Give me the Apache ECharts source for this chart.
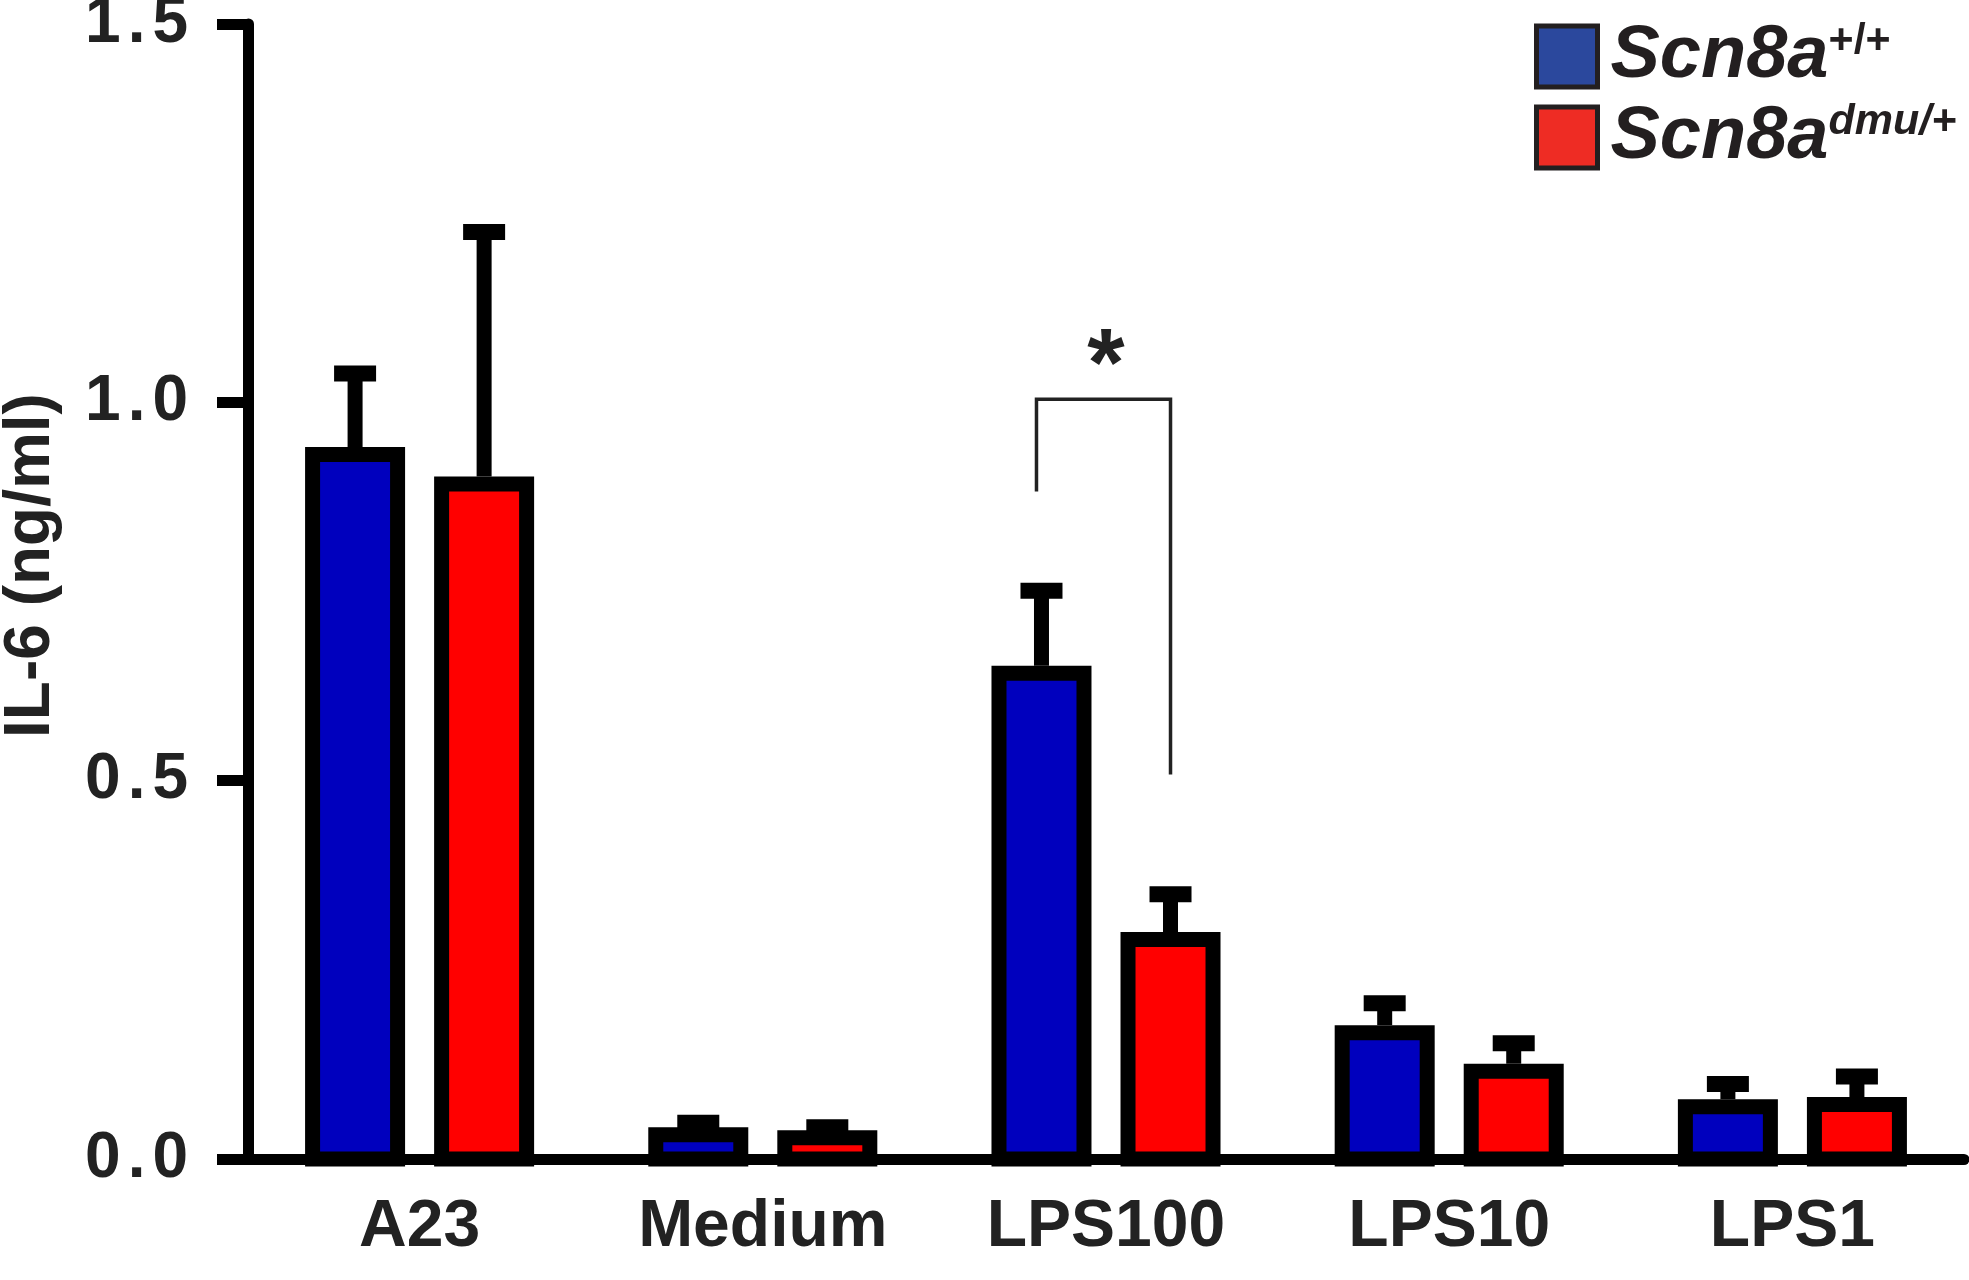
<!DOCTYPE html>
<html>
<head>
<meta charset="utf-8">
<script src="https://cdn.jsdelivr.net/npm/echarts@6.0.0/dist/echarts.min.js"></script>
<style>
  html, body { margin: 0; padding: 0; background: #fff; }
  #chart { width: 1969px; height: 1280px; }
</style>
</head>
<body>
<div id="chart"></div>
<script>
// data (IL-6, ng/ml)
const categories = ['A23', 'Medium', 'LPS100', 'LPS10', 'LPS1'];
const wildTypeMean = [0.931, 0.032, 0.642, 0.167, 0.069];
const wildTypeSem = [0.107, 0.016, 0.109, 0.039, 0.030];
const mutantMean = [0.892, 0.028, 0.290, 0.116, 0.072];
const mutantSem = [0.333, 0.014, 0.060, 0.037, 0.037];
// [category, left foot, right foot, bracket top, star]
const significance = [[2, 0.882, 0.508, 1.004, 1.045]];
const seriesNames = ['Scn8a+/+', 'Scn8admu/+'];

const FONT = 'Liberation Sans, Arial, sans-serif';
const BAR_W = 85;
const BAR_GAP = 0.518;
const BORDER = 15;
const OFFSET = (BAR_W + BAR_GAP * BAR_W) / 2;

const chart = echarts.init(document.getElementById('chart'));

// thick outline over the bar, then an upward error bar (stem + cap)
function outlineAndError(offset) {
  return function (params, api) {
    const cat = api.value(0);
    const base = api.coord([cat, api.value(1)]);
    const zero = api.coord([cat, 0]);
    const top = api.coord([cat, api.value(1) + api.value(2)]);
    const x = base[0] + offset;
    const outerTop = base[1] - BORDER / 2;
    return {
      type: 'group',
      children: [
        {
          type: 'rect',
          shape: { x: x - BAR_W / 2, y: base[1], width: BAR_W, height: zero[1] - base[1] },
          style: { fill: null, stroke: '#000', lineWidth: BORDER }
        },
        { type: 'rect', shape: { x: x - 7.5, y: top[1], width: 15, height: Math.max(0, outerTop - top[1]) }, style: { fill: '#000' } },
        { type: 'rect', shape: { x: x - 21, y: top[1] - 8, width: 42, height: 16 }, style: { fill: '#000' } }
      ]
    };
  };
}

function bracket(params, api) {
  const cat = api.value(0);
  const left = api.coord([cat, api.value(1)]);
  const right = api.coord([cat, api.value(2)]);
  const top = api.coord([cat, api.value(3)]);
  const star = api.coord([cat, api.value(4)]);
  const xl = left[0] - OFFSET - 5;
  const xr = left[0] + OFFSET;
  return {
    type: 'group',
    children: [
      {
        type: 'polyline',
        shape: { points: [[xl, left[1]], [xl, top[1]], [xr, top[1]], [xr, right[1]]] },
        style: { stroke: '#222', lineWidth: 3.5, fill: null }
      },
      {
        type: 'text',
        style: { text: '*', x: star[0], y: star[1], align: 'center', verticalAlign: 'middle',
          font: 'bold 96px ' + FONT, fill: '#222' }
      }
    ]
  };
}

const options = {
  animation: false,
  backgroundColor: '#fff',
  grid: { left: 248, right: 5, top: 24, bottom: 121, containLabel: false, outerBoundsMode: 'none' },
  legend: {
    orient: 'vertical',
    left: 1534,
    top: 19.5,
    padding: 0,
    itemWidth: 61,
    itemHeight: 61,
    itemGap: 7,
    icon: 'rect',
    data: [
      { name: seriesNames[0], itemStyle: { color: '#2b489d', borderColor: '#231f20', borderWidth: 5 } },
      { name: seriesNames[1], itemStyle: { color: '#ee2c24', borderColor: '#231f20', borderWidth: 5 } }
    ],
    formatter: function (name) {
      return name === seriesNames[0] ? '{base|Scn8a}{sup|+/+}' : '{base|Scn8a}{supi|dmu/+}';
    },
    textStyle: {
      padding: [0, 0, 0, 8],
      rich: {
        base: { fontFamily: FONT, fontSize: 74, fontWeight: 'bold', fontStyle: 'italic', color: '#231f20', lineHeight: 74 },
        sup: { fontFamily: FONT, fontSize: 43, fontWeight: 'bold', color: '#231f20', verticalAlign: 'top', lineHeight: 74 },
        supi: { fontFamily: FONT, fontSize: 43, fontWeight: 'bold', fontStyle: 'italic', color: '#231f20', verticalAlign: 'top', lineHeight: 74 }
      }
    }
  },
  xAxis: {
    type: 'category',
    data: categories,
    axisLine: { lineStyle: { color: '#000', width: 11 } },
    axisTick: { alignWithLabel: true, length: 34, lineStyle: { color: '#000', width: 11 } },
    axisLabel: { margin: 36, fontFamily: FONT, fontSize: 66, fontWeight: 'bold', color: '#222' }
  },
  yAxis: {
    type: 'value',
    min: 0,
    max: 1.5,
    interval: 0.5,
    name: 'IL-6 (ng/ml)',
    nameLocation: 'middle',
    nameRotate: 90,
    nameGap: 185,
    nameTextStyle: { fontFamily: FONT, fontSize: 64, fontWeight: 'bold', color: '#222', padding: [0, 0, 0, 52] },
    splitLine: { show: false },
    axisLine: { show: true, lineStyle: { color: '#000', width: 11 } },
    axisTick: { show: true, length: 31, lineStyle: { color: '#000', width: 11 } },
    axisLabel: {
      margin: 60,
      formatter: function (v) {
        const s = v.toFixed(1).split('.');
        return '{d|' + s[0] + '}{p|.}{d|' + s[1] + '}';
      },
      rich: {
        d: { fontFamily: FONT, fontSize: 64, fontWeight: 'bold', color: '#222' },
        p: { fontFamily: FONT, fontSize: 64, fontWeight: 'bold', color: '#222', padding: [0, 7, 0, 7] }
      }
    }
  },
  series: [
    {
      name: seriesNames[0],
      type: 'bar',
      data: wildTypeMean,
      barWidth: BAR_W,
      barGap: (BAR_GAP * 100) + '%',
      itemStyle: { color: '#0000be' },
      z: 2
    },
    {
      name: seriesNames[1],
      type: 'bar',
      data: mutantMean,
      barWidth: BAR_W,
      itemStyle: { color: '#ff0000' },
      z: 2
    },
    {
      type: 'custom',
      renderItem: outlineAndError(-OFFSET),
      data: wildTypeMean.map((m, i) => [i, m, wildTypeSem[i]]),
      z: 3
    },
    {
      type: 'custom',
      renderItem: outlineAndError(OFFSET),
      data: mutantMean.map((m, i) => [i, m, mutantSem[i]]),
      z: 3
    },
    {
      type: 'custom',
      renderItem: bracket,
      data: significance,
      z: 3
    }
  ]
};

chart.setOption(options);
</script>
</body>
</html>
